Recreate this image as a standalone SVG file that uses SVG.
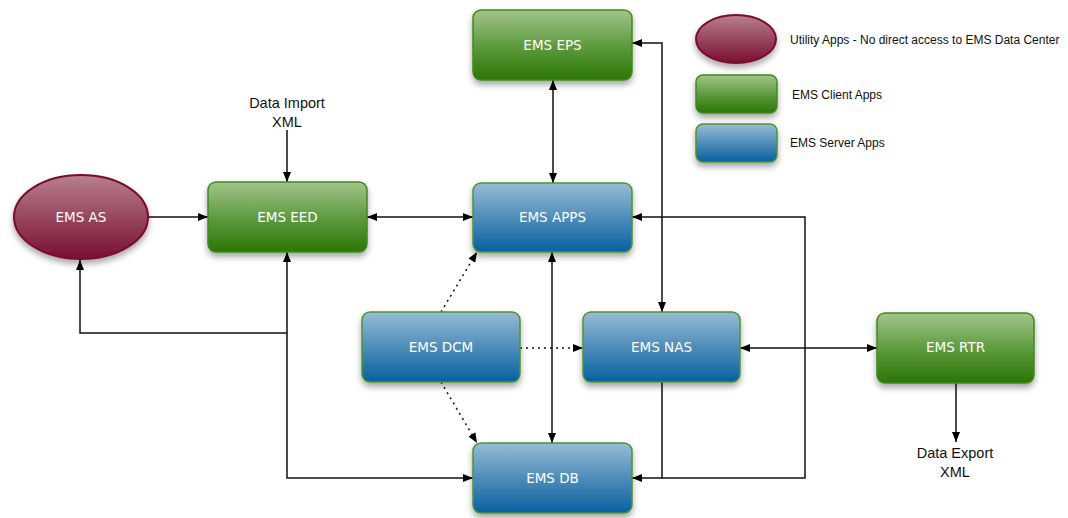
<svg xmlns="http://www.w3.org/2000/svg" width="1068" height="518" viewBox="0 0 1068 518">
<defs>
<linearGradient id="gGreen" x1="0" y1="0" x2="0" y2="1">
<stop offset="0" stop-color="#a3c48c"/><stop offset="0.5" stop-color="#5f9c40"/><stop offset="1" stop-color="#2b7604"/>
</linearGradient>
<linearGradient id="gBlue" x1="0" y1="0" x2="0" y2="1">
<stop offset="0" stop-color="#97bcd6"/><stop offset="0.5" stop-color="#4f8db9"/><stop offset="1" stop-color="#07609f"/>
</linearGradient>
<linearGradient id="gRed" x1="0" y1="0" x2="0" y2="1">
<stop offset="0" stop-color="#b8808f"/><stop offset="0.5" stop-color="#98475e"/><stop offset="1" stop-color="#7a0f32"/>
</linearGradient>
<filter id="sh" x="-20%" y="-20%" width="140%" height="150%">
<feDropShadow dx="0" dy="4" stdDeviation="3" flood-color="#000" flood-opacity="0.35"/>
</filter>
<marker id="ar" viewBox="0 0 10 10" refX="10" refY="5" markerWidth="10" markerHeight="10" markerUnits="userSpaceOnUse" orient="auto-start-reverse">
<path d="M0,1 L10,5 L0,9 Z" fill="#000"/>
</marker>
<style>
.green{fill:url(#gGreen);stroke:#3f8a1f;stroke-width:1.5;filter:url(#sh)}
.blue{fill:url(#gBlue);stroke:#4f9430;stroke-width:1.5;filter:url(#sh)}
.red{fill:url(#gRed);stroke:#7a0a2a;stroke-width:2;filter:url(#sh)}
.nt{font-family:"DejaVu Sans",Verdana,sans-serif;font-size:13.5px;fill:#fff;text-anchor:middle;dominant-baseline:central}
.lab{font-family:"Liberation Sans",Arial,sans-serif;font-size:14.5px;fill:#111;text-anchor:middle}
.leg{font-family:"Liberation Sans",Arial,sans-serif;font-size:12px;fill:#111}
.c{fill:none;stroke:#111;stroke-width:1.5}
.d{fill:none;stroke:#111;stroke-width:1.5;stroke-dasharray:2,4}
</style>
</defs>
<rect width="1068" height="518" fill="#fff"/>

<g id="connectors">
<path class="c" d="M287,130 V182" marker-end="url(#ar)"/>
<path class="c" d="M148,217 H208" marker-end="url(#ar)"/>
<path class="c" d="M367,217 H473" marker-start="url(#ar)" marker-end="url(#ar)"/>
<path class="c" d="M553,80 V183" marker-start="url(#ar)" marker-end="url(#ar)"/>
<path class="c" d="M632,43 H662 V312" marker-start="url(#ar)" marker-end="url(#ar)"/>
<path class="c" d="M552,252 V443" marker-start="url(#ar)" marker-end="url(#ar)"/>
<path class="c" d="M287,252 V478 H473" marker-start="url(#ar)" marker-end="url(#ar)"/>
<path class="c" d="M287,333 H80 V260" marker-end="url(#ar)"/>
<path class="c" d="M662,382 V478 H632" marker-end="url(#ar)"/>
<path class="c" d="M662,478 H805 V217 H632" marker-end="url(#ar)"/>
<path class="c" d="M740,348 H877" marker-start="url(#ar)" marker-end="url(#ar)"/>
<path class="c" d="M956,383 V442" marker-end="url(#ar)"/>
<path class="d" d="M441,312 L477,252" marker-end="url(#ar)"/>
<path class="d" d="M520,348 H583" marker-end="url(#ar)"/>
<path class="d" d="M441,382 L477,443" marker-end="url(#ar)"/>
</g>

<g id="ems-as"><ellipse class="red" cx="81" cy="217" rx="67" ry="42"/><text class="nt" x="81" y="217">EMS AS</text></g>
<g id="ems-eed"><rect class="green" x="208" y="182" width="159" height="70" rx="8"/><text class="nt" x="287.5" y="217">EMS EED</text></g>
<g id="ems-eps"><rect class="green" x="473" y="10" width="159" height="70" rx="8"/><text class="nt" x="552.5" y="45">EMS EPS</text></g>
<g id="ems-apps"><rect class="blue" x="473" y="183" width="159" height="69" rx="8"/><text class="nt" x="552.5" y="217">EMS APPS</text></g>
<g id="ems-dcm"><rect class="blue" x="362" y="312" width="158" height="70" rx="8"/><text class="nt" x="441" y="347">EMS DCM</text></g>
<g id="ems-nas"><rect class="blue" x="583" y="312" width="157" height="70" rx="8"/><text class="nt" x="661.5" y="347">EMS NAS</text></g>
<g id="ems-db"><rect class="blue" x="473" y="443" width="159" height="70" rx="8"/><text class="nt" x="552.5" y="478">EMS DB</text></g>
<g id="ems-rtr"><rect class="green" x="877" y="313" width="157" height="70" rx="8"/><text class="nt" x="955.5" y="347">EMS RTR</text></g>

<g id="data-import"><text class="lab" x="287" y="108">Data Import</text><text class="lab" x="287" y="127">XML</text></g>
<g id="data-export"><text class="lab" x="955" y="458">Data Export</text><text class="lab" x="955" y="477">XML</text></g>

<g id="legend">
<ellipse class="red" cx="736" cy="39" rx="40" ry="24"/>
<text class="leg" x="790" y="44">Utility Apps - No direct access to EMS Data Center</text>
<rect class="green" x="696" y="75" width="81" height="38" rx="7"/>
<text class="leg" x="792" y="99">EMS Client Apps</text>
<rect class="blue" x="696" y="124" width="81" height="38" rx="7"/>
<text class="leg" x="790" y="147">EMS Server Apps</text>
</g>
</svg>
